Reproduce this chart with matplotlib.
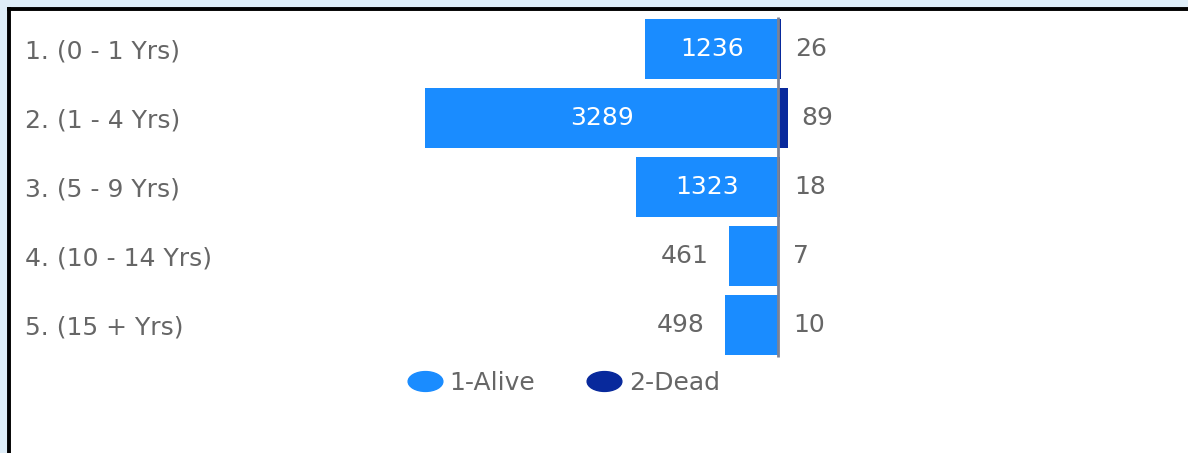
#!/usr/bin/env python3
"""alive_dead_by_age.py"""

import matplotlib

matplotlib.use("Agg")
import matplotlib.pyplot as plt
from matplotlib.lines import Line2D
from matplotlib.markers import MarkerStyle
from matplotlib.path import Path
from matplotlib.transforms import Affine2D, blended_transform_factory
import numpy as np

# age groups and counts
age_groups = ["1. (0 - 1 Yrs)", "2. (1 - 4 Yrs)", "3. (5 - 9 Yrs)",
              "4. (10 - 14 Yrs)", "5. (15 + Yrs)"]
alive = [1236, 3289, 1323, 461, 498]
dead = [26, 89, 18, 7, 10]
series_names = ["1-Alive", "2-Dead"]

ALIVE_COLOR = "#1a8cff"
DEAD_COLOR = "#08299c"
TEXT_COLOR = "#666666"
FONT_SIZE = 18

plt.rcParams["font.family"] = ["DejaVu Sans"]


def plot(fig):
    # panel with black top/left border on the light blue page
    ax = fig.add_axes([9 / 1188, 0, 1 - 9 / 1188, 1 - 9 / 453])
    ax.set_facecolor("white")
    for side in ["right", "bottom"]:
        ax.spines[side].set_visible(False)
    for side in ["left", "top"]:
        ax.spines[side].set_color("black")
        ax.spines[side].set_linewidth(2.8)
    ax.set_xticks([])
    ax.set_yticks([])

    y = np.arange(len(age_groups))
    alive_neg = -np.array(alive)
    bars_alive = ax.barh(y, alive_neg, height=0.87, color=ALIVE_COLOR)
    bars_dead = ax.barh(y, dead, height=0.87, color=DEAD_COLOR)

    # zero line on top of the bars
    ax.vlines(0, -0.47, len(age_groups) - 0.53, color="#7d8294",
              linewidth=2, zorder=3)

    # values: inside when the bar is wide enough, outside otherwise
    inside = [str(v) if v > 1000 else "" for v in alive]
    outside = ["" if v > 1000 else str(v) for v in alive]
    ax.bar_label(bars_alive, labels=inside, label_type="center",
                 color="white", fontsize=FONT_SIZE)
    ax.bar_label(bars_alive, labels=outside, label_type="edge", padding=14,
                 color=TEXT_COLOR, fontsize=FONT_SIZE)
    ax.bar_label(bars_dead, labels=[str(v) for v in dead], label_type="edge",
                 padding=10, color=TEXT_COLOR, fontsize=FONT_SIZE)

    # category labels on the left edge of the panel
    trans = blended_transform_factory(ax.transAxes, ax.transData)
    for yi, name in zip(y, age_groups):
        ax.text(0.0136, yi + 0.04, name, transform=trans, ha="left",
                va="center", color=TEXT_COLOR, fontsize=FONT_SIZE)

    # pixel mapping: zero at x=778px, 0.1073 px per unit
    ax.set_xlim((9 - 778) / 0.1073, (1188 - 778) / 0.1073)
    ax.set_ylim((453 - 49) / 69, (9 - 49) / 69)

    # legend with wide oval markers
    oval = Path.unit_circle().transformed(Affine2D().scale(1.75, 1))
    handles = [
        Line2D([], [], linestyle="none", marker=MarkerStyle(oval),
               markersize=25, color=c)
        for c in [ALIVE_COLOR, DEAD_COLOR]
    ]
    leg = fig.legend(handles, series_names, loc="center",
                     bbox_to_anchor=(563 / 1188, 1 - 383 / 453), ncol=2,
                     frameon=False, fontsize=FONT_SIZE, handlelength=1.5,
                     handletextpad=0.25, columnspacing=2.0)
    for t in leg.get_texts():
        t.set_color(TEXT_COLOR)


def main():
    fig = plt.figure(figsize=(11.88, 4.53), dpi=100, facecolor="#deedf8")
    plot(fig)
    fig.savefig("out.png", dpi=100, facecolor=fig.get_facecolor())


if __name__ == "__main__":
    main()
